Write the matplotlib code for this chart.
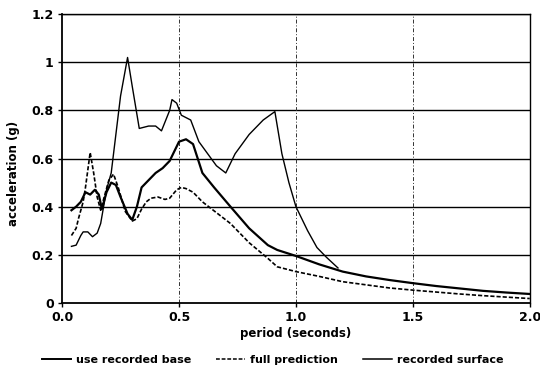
import matplotlib
matplotlib.use("Agg")
import matplotlib.pyplot as plt
from matplotlib.lines import Line2D

# ---- data ----
base_x = [0.04, 0.06, 0.08, 0.10, 0.12, 0.14, 0.157, 0.17, 0.19, 0.21, 0.23, 0.25, 0.28, 0.30,
          0.32, 0.34, 0.37, 0.40, 0.43, 0.46, 0.48, 0.50, 0.53, 0.56, 0.60, 0.65, 0.72, 0.80,
          0.88, 0.92, 1.0, 1.1, 1.2, 1.3, 1.4, 1.5, 1.6, 1.7, 1.8, 1.9, 2.0]
base_y = [0.385, 0.40, 0.42, 0.46, 0.45, 0.47, 0.45, 0.39, 0.46, 0.50, 0.49, 0.44, 0.37, 0.345,
          0.40, 0.48, 0.51, 0.54, 0.56, 0.59, 0.63, 0.67, 0.68, 0.66, 0.54, 0.48, 0.40, 0.31,
          0.24, 0.22, 0.195, 0.16, 0.13, 0.11, 0.095, 0.082, 0.07, 0.06, 0.05, 0.043, 0.037]

pred_x = [0.04, 0.06, 0.07, 0.09, 0.10, 0.12, 0.135, 0.15, 0.165, 0.18, 0.20, 0.22, 0.24, 0.27,
          0.30, 0.32, 0.34, 0.36, 0.38, 0.41, 0.44, 0.46, 0.49, 0.51, 0.53, 0.56, 0.60, 0.64,
          0.72, 0.80, 0.88, 0.92, 1.0, 1.1, 1.2, 1.3, 1.4, 1.5, 1.6, 1.7, 1.8, 1.9, 2.0]
pred_y = [0.28, 0.31, 0.35, 0.42, 0.48, 0.625, 0.54, 0.44, 0.385, 0.44, 0.51, 0.535, 0.48, 0.38,
          0.34, 0.35, 0.39, 0.42, 0.435, 0.44, 0.43, 0.435, 0.47, 0.48, 0.475, 0.46, 0.42, 0.39,
          0.33, 0.25, 0.185, 0.15, 0.13, 0.11, 0.088, 0.075, 0.062, 0.053, 0.045, 0.037, 0.03,
          0.024, 0.018]

surf_x = [0.04, 0.06, 0.08, 0.09, 0.11, 0.13, 0.15, 0.165, 0.19, 0.21, 0.23, 0.25, 0.28, 0.30,
          0.33, 0.37, 0.40, 0.425, 0.46, 0.47, 0.49, 0.51, 0.55, 0.585, 0.63, 0.66, 0.70, 0.74,
          0.80, 0.86, 0.91, 0.94, 0.97, 1.00, 1.05, 1.09, 1.13, 1.18]
surf_y = [0.235, 0.24, 0.28, 0.295, 0.295, 0.275, 0.29, 0.33, 0.47, 0.54, 0.70, 0.86, 1.02, 0.90,
          0.725, 0.735, 0.735, 0.715, 0.80, 0.845, 0.83, 0.78, 0.76, 0.67, 0.61, 0.57, 0.54, 0.62,
          0.70, 0.76, 0.795, 0.62, 0.50, 0.40, 0.30, 0.23, 0.19, 0.145]

x_ticks = [0.0, 0.5, 1.0, 1.5, 2.0]
x_ticklabels = ["0.0", "0.5", "1.0", "1.5", "2.0"]
y_ticks = [0, 0.2, 0.4, 0.6, 0.8, 1.0, 1.2]
y_ticklabels = ["0", "0.2", "0.4", "0.6", "0.8", "1", "1.2"]
labels = ["use recorded base", "full prediction", "recorded surface"]

plt.rcParams['font.family'] = ['DejaVu Sans']
plt.rcParams['font.weight'] = 'bold'

fig = plt.figure(figsize=(5.4, 3.73), dpi=100)
ax = fig.add_axes([0.115, 0.188, 0.866, 0.774])

# grid
for yv in y_ticks[1:]:
    ax.axhline(yv, color='black', lw=1.0, zorder=1)
for xv in x_ticks[1:-1]:
    ax.axvline(xv, color='#333333', lw=0.7, ls=(0, (4, 2, 1, 2)), zorder=1)

l1, = ax.plot(base_x, base_y, color='black', lw=1.6, zorder=3)
l2, = ax.plot(pred_x, pred_y, color='black', lw=1.2, ls=(0, (2.5, 1.2)), zorder=3)
l3, = ax.plot(surf_x, surf_y, color='black', lw=1.0, zorder=3)

ax.set_xlim(0, 2.0)
ax.set_ylim(0, 1.2)
ax.set_xticks(x_ticks)
ax.set_xticklabels(x_ticklabels)
ax.set_yticks(y_ticks)
ax.set_yticklabels(y_ticklabels)
ax.tick_params(axis='both', labelsize=9, direction='out', length=3, width=1, pad=3)
for lab in ax.get_xticklabels() + ax.get_yticklabels():
    lab.set_fontweight('bold')
for s in ['left', 'bottom']:
    ax.spines[s].set_linewidth(1.3)
ax.spines['top'].set_linewidth(1.0)
ax.spines['right'].set_linewidth(1.0)

ax.set_xlabel("period (seconds)", fontsize=8.5, fontweight='bold', labelpad=2)
ax.set_ylabel("acceleration (g)", fontsize=8.5, fontweight='bold')
ax.yaxis.set_label_coords(-0.09, 0.45)

handles = [Line2D([], [], color='black', lw=1.4),
           Line2D([], [], color='black', lw=1.1, ls=(0, (2.5, 1.2))),
           Line2D([], [], color='black', lw=1.1)]
fig.legend(handles, labels, loc='center', bbox_to_anchor=(0.505, 1 - 360 / 373), ncol=3,
           frameon=False, handlelength=2.6, handletextpad=0.5, columnspacing=2.2,
           prop={'weight': 'bold', 'size': 8})

fig.savefig("out.png", dpi=100)
